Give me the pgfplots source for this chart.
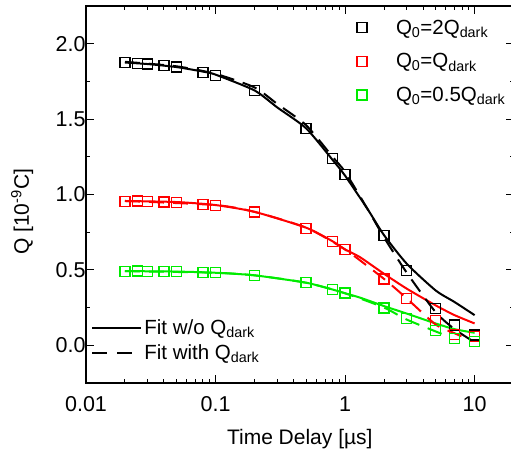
\documentclass[border=0pt]{standalone}
\usepackage{pgfplots}
\pgfplotsset{compat=1.18}
\usepackage{fontspec}
\setmainfont{Liberation Sans}
\definecolor{pred}{RGB}{255,0,0}
\definecolor{pgreen}{RGB}{0,235,0}

\pgfplotsset{
  legaxis/.style={at={(0pt,0pt)}, anchor=south west, scale only axis,
    width=427.6pt, height=377pt, hide axis, xmin=0, xmax=1, ymin=0, ymax=1,
    legend style={draw=none, fill=none, font=\fontsize{20.5}{24}\selectfont,
      anchor=west, at={(axis description cs:#1)}},
    legend cell align=left},
  markleg/.style={legend image code/.code={%
      \draw[##1] plot coordinates {(0pt,0pt)};
      \path[draw=none, fill=none] (-6pt,0pt) -- (32pt,0pt);}},
  lineleg/.style={legend image code/.code={\draw[##1] (0pt,0pt) -- (49pt,0pt);}},
  sqmark/.style={only marks, mark=square, mark size=5pt, mark options={#1, line width=1.2pt, solid}, #1},
}

\pgfplotstableread{
x     b      r      g
0.02  1.875  0.956  0.492
0.025 1.870  0.957  0.493
0.03  1.865  0.955  0.492
0.04  1.855  0.950  0.490
0.05  1.845  0.948  0.489
0.08  1.810  0.935  0.483
0.1   1.790  0.925  0.481
0.2   1.690  0.884  0.463
0.5   1.440  0.776  0.414
0.8   1.240  0.689  0.370
1     1.130  0.634  0.347
2     0.726  0.440  0.248
3     0.495  0.309  0.178
5     0.243  0.167  0.100
7     0.134  0.070  0.046
10    0.068  0.060  0.024
}\datatab

\begin{document}
\begin{tikzpicture}
\useasboundingbox (-86pt,-73pt) rectangle (425pt,383pt);
\begin{axis}[
  at={(0pt,0pt)}, anchor=south west,
  scale only axis, width=427.6pt, height=377pt,
  xmode=log, xmin=0.01, xmax=20, ymin=-0.25, ymax=2.25,
  xtick={0.01,0.1,1,10}, xticklabels={0.01,0.1,1,10},
  ytick={0,0.5,1,1.5,2},
  minor ytick={-0.25,0.25,0.75,1.25,1.75,2.25},
  yticklabel style={xshift=3pt, /pgf/number format/.cd,fixed,fixed zerofill,precision=1},
  /pgf/number format/assume math mode=true,
  tick align=inside, xtick pos=both, ytick pos=both,
  major tick length=8pt, minor tick length=4pt,
  axis line style={line width=1.2pt},
  every tick/.style={black, line width=1pt},
  tick label style={font=\fontsize{21.5}{25}\selectfont},
  xticklabel style={yshift=-10pt},
  label style={font=\fontsize{21}{25}\selectfont},
  xlabel={Time Delay [µs]},
  xlabel style={at={(axis description cs:0.5,0)}, anchor=base, yshift=-61pt},
  ylabel={Q [10\textsuperscript{-9}C]},
  ylabel style={at={(axis description cs:-0.149,0.454)}, anchor=center},
]
% fits without Q_dark (solid)
\addplot[black, line width=2pt, smooth, tension=0.4] coordinates {
(0.02,1.875)(0.03,1.865)(0.05,1.845)(0.08,1.815)(0.1,1.795)(0.2,1.69)(0.3,1.577)(0.5,1.439)(0.8,1.23)(1,1.125)(1.5,0.9)(2,0.73)(3,0.54)(5,0.364)(7,0.287)(10,0.2)};
\addplot[pred, line width=2pt, smooth, tension=0.4] coordinates {
(0.02,0.957)(0.05,0.95)(0.1,0.93)(0.2,0.885)(0.5,0.78)(0.8,0.69)(1,0.636)(1.306,0.584)(2,0.474)(3,0.375)(5,0.265)(7,0.2)(10,0.145)};
\addplot[pgreen, line width=2pt, smooth, tension=0.4] coordinates {
(0.02,0.492)(0.05,0.489)(0.1,0.481)(0.2,0.464)(0.5,0.415)(0.8,0.37)(1,0.345)(1.306,0.316)(2,0.26)(3,0.21)(5,0.145)(7,0.107)(10,0.083)};
% fits with Q_dark (dashed)
\addplot[black, line width=2pt, dash pattern=on 15pt off 9pt, smooth, tension=0.4] coordinates {
(0.02,1.88)(0.05,1.85)(0.1,1.80)(0.2,1.71)(0.3,1.60)(0.5,1.46)(0.8,1.25)(1,1.15)(1.5,0.9)(2,0.715)(3,0.48)(5,0.22)(7,0.107)(10,0.02)};
\addplot[pred, line width=2pt, dash pattern=on 15pt off 9pt, smooth, tension=0.4] coordinates {
(0.02,0.957)(0.1,0.93)(0.2,0.885)(0.5,0.78)(1,0.635)(2,0.44)(3,0.31)(5,0.138)(7,0.08)(9,0.04)};
\addplot[pgreen, line width=2pt, dash pattern=on 15pt off 9pt, smooth, tension=0.4] coordinates {
(0.02,0.492)(0.1,0.481)(0.2,0.464)(0.5,0.415)(1,0.345)(2,0.25)(3,0.17)(5.8,0.07)};
% data
\addplot[sqmark=black] table[x=x, y=b] {\datatab};
\addplot[sqmark=pred] table[x=x, y=r] {\datatab};
\addplot[sqmark=pgreen] table[x=x, y=g] {\datatab};
\end{axis}
% legend rows (one hidden axis per row)
\begin{axis}[legaxis={0.624,0.942}, markleg]
\addlegendimage{sqmark=black}
\addlegendentry{Q\textsubscript{0}=2Q\textsubscript{dark}}
\end{axis}
\begin{axis}[legaxis={0.624,0.853}, markleg]
\addlegendimage{sqmark=pred}
\addlegendentry{Q\textsubscript{0}=Q\textsubscript{dark}}
\end{axis}
\begin{axis}[legaxis={0.624,0.764}, markleg]
\addlegendimage{sqmark=pgreen}
\addlegendentry{Q\textsubscript{0}=0.5Q\textsubscript{dark}}
\end{axis}
\begin{axis}[legaxis={0.005,0.146}, lineleg]
\addlegendimage{black, line width=2pt}
\addlegendentry{Fit w/o Q\textsubscript{dark}}
\end{axis}
\begin{axis}[legaxis={0.005,0.080}, lineleg]
\addlegendimage{black, line width=2pt, dash pattern=on 15pt off 10pt}
\addlegendentry{Fit with Q\textsubscript{dark}}
\end{axis}
\end{tikzpicture}
\end{document}
